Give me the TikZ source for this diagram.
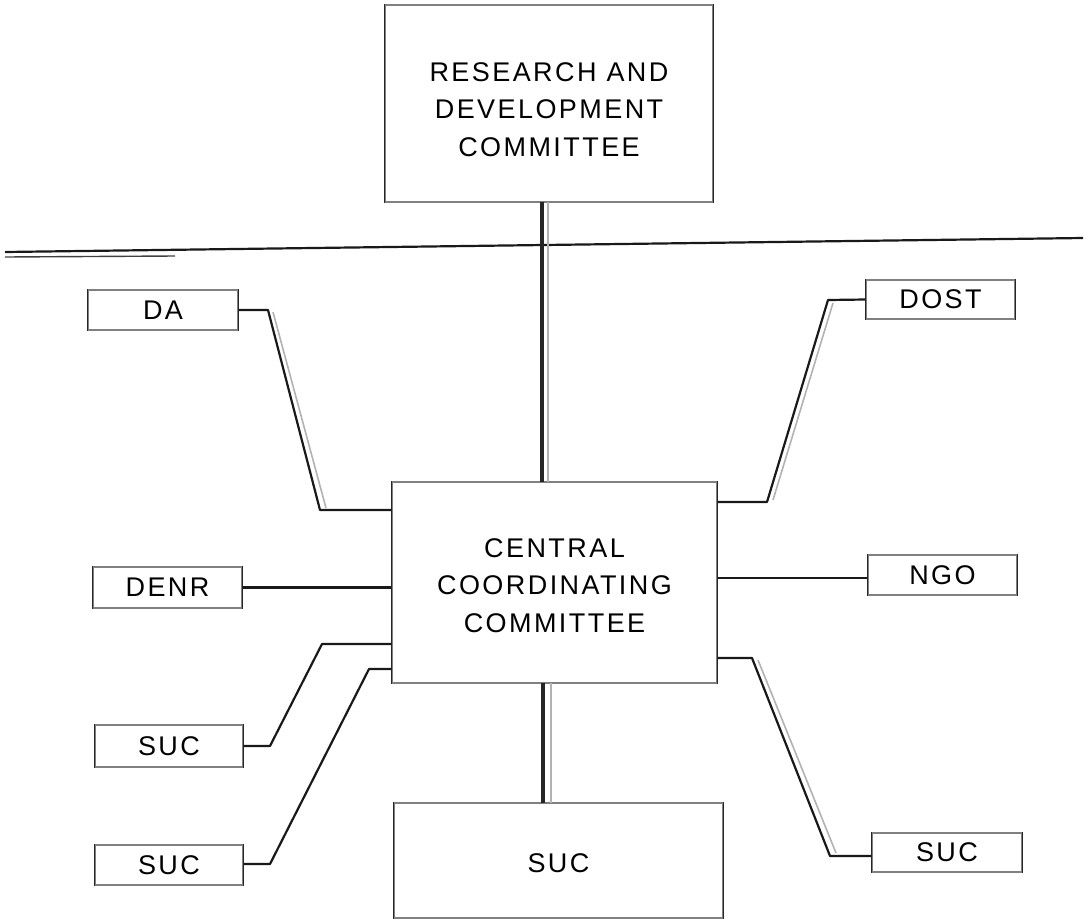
\documentclass[tikz,border=0pt]{standalone}
\usepackage{fontspec}
\setmainfont[LetterSpace=9]{Liberation Sans}
\begin{document}
\begin{tikzpicture}[x=1pt,y=-1pt,
  txt/.style={inner sep=0pt, align=center, text=black,
    font=\fontsize{27}{37.5}\selectfont},
  box/.style={draw=black!50, line width=1.1pt, txt},
  link/.style={line width=2.2pt, black!90, line join=round},
  shade/.style={line width=1.6pt, black!30},
  trunk/.style={line width=4.5pt, black!85},
  side/.style={line width=1.8pt, black!85}]
\path[use as bounding box] (0,0) rectangle (1091,921);

% boxes
\node[box, minimum width=328pt, minimum height=197pt,
  label={[txt, yshift=-6pt]center:{RESEARCH AND\\DEVELOPMENT\\COMMITTEE}}] (rd) at (549,103.5) {};
\node[box, minimum width=325pt, minimum height=201pt,
  label={[txt, yshift=-3pt]center:{CENTRAL\\COORDINATING\\COMMITTEE}}] (cc) at (554.5,582.5) {};
\node[box, minimum width=329pt, minimum height=115pt,
  label={[txt, yshift=-3pt]center:SUC}] (sucM) at (558.5,860.5) {};
\node[box, minimum width=150pt, minimum height=40pt] (da) at (163,310) {DA};
\node[box, minimum width=149pt, minimum height=41pt] (denr) at (167.5,587.5) {DENR};
\node[box, minimum width=148pt, minimum height=42pt] (sucA) at (169,746) {SUC};
\node[box, minimum width=148pt, minimum height=40pt] (sucB) at (169,865) {SUC};
\node[box, minimum width=149pt, minimum height=39pt] (dost) at (940.5,299.5) {DOST};
\node[box, minimum width=149pt, minimum height=40pt] (ngo) at (942.5,575) {NGO};
\node[box, minimum width=150pt, minimum height=39pt] (sucR) at (947,852.5) {SUC};

% darker vertical sides of the boxes
\foreach \n in {rd,cc,sucM,da,denr,sucA,sucB,dost,ngo,sucR}{
  \draw[side] (\n.north west) -- (\n.south west);
  \draw[side] (\n.north east) -- (\n.south east);
}

% horizontal dividing line
\coordinate (hl) at (5,252);
\coordinate (hr) at (1083,238);
\coordinate (hl2) at (5,257);
\coordinate (hm2) at (175,256);
\draw[line width=2.2pt, black!90] (hl) -- (hr);
\draw[line width=1.4pt, black!75] (hl2) -- (hm2);

% trunk lines
\coordinate (t1) at (542,202);
\coordinate (t2) at (542,482);
\coordinate (t1s) at (548,202);
\coordinate (t2s) at (548,482);
\draw[shade] (t1s) -- (t2s);
\draw[trunk] (t1) -- (t2);
\coordinate (b1) at (543,683);
\coordinate (b2) at (543,803);
\coordinate (b1s) at (551,683);
\coordinate (b2s) at (551,803);
\draw[shade] (b1s) -- (b2s);
\draw[trunk] (b1) -- (b2);

% DA
\coordinate (da1) at (268,310);
\coordinate (da2) at (320,510);
\coordinate (da1s) at (273,312);
\coordinate (da2s) at (326,508);
\draw[shade] (da1s) -- (da2s);
\draw[link] (da.east) -- (da1) -- (da2) -- (da2 -| cc.west);

% DENR
\draw[link] (denr.east) -- (denr.east -| cc.west);

% SUC A
\coordinate (sa1) at (270,746);
\coordinate (sa2) at (322,644);
\draw[link] (sucA.east) -- (sa1) -- (sa2) -- (sa2 -| cc.west);

% SUC B
\coordinate (sb1) at (270,864);
\coordinate (sb2) at (369,669);
\draw[link] (sucB.east |- sb1) -- (sb1) -- (sb2) -- (sb2 -| cc.west);

% DOST
\coordinate (do1) at (828,300);
\coordinate (do2) at (767,502);
\coordinate (do1s) at (833,303);
\coordinate (do2s) at (773,500);
\draw[shade] (do1s) -- (do2s);
\draw[link] (dost.west) -- (do1) -- (do2) -- (do2 -| cc.east);

% NGO
\draw[link] (ngo.west |- 0,578) -- (cc.east |- 0,578);

% SUC right
\coordinate (sr1) at (830,856);
\coordinate (sr2) at (752,658);
\coordinate (sr1s) at (836,853);
\coordinate (sr2s) at (758,660);
\draw[shade] (sr1s) -- (sr2s);
\draw[link] (sucR.west |- sr1) -- (sr1) -- (sr2) -- (sr2 -| cc.east);
\end{tikzpicture}
\end{document}
